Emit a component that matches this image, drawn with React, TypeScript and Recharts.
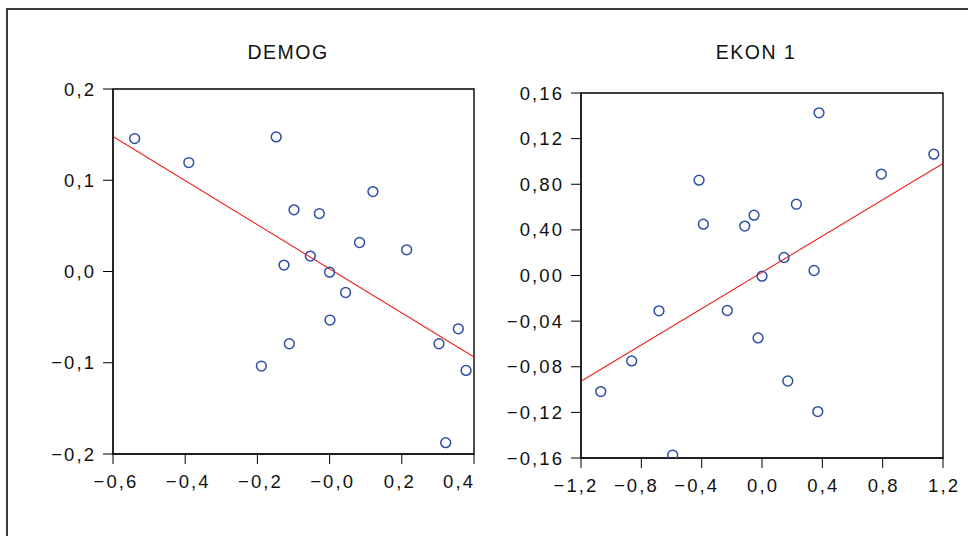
import React from "react";
import {
  ScatterChart,
  Scatter,
  XAxis,
  YAxis,
  ReferenceLine,
  ReferenceArea,
} from "recharts";

// ---- DEMOG ----
const demogPoints = [
  { x: -0.54, y: 0.1457 },
  { x: -0.39, y: 0.1194 },
  { x: -0.148, y: 0.1475 },
  { x: -0.0986, y: 0.0676 },
  { x: -0.0285, y: 0.0635 },
  { x: 0.12, y: 0.0876 },
  { x: 0.083, y: 0.0318 },
  { x: 0.2135, y: 0.0238 },
  { x: -0.0534, y: 0.0169 },
  { x: -0.1263, y: 0.007 },
  { x: 0.0, y: -0.0007 },
  { x: 0.0443, y: -0.023 },
  { x: 0.001, y: -0.0532 },
  { x: -0.1116, y: -0.0792 },
  { x: -0.189, y: -0.1036 },
  { x: 0.303, y: -0.0792 },
  { x: 0.3566, y: -0.0628 },
  { x: 0.378, y: -0.1084 },
  { x: 0.3216, y: -0.1876 },
];
const demogFit = [
  { x: -0.6, y: 0.1479 },
  { x: 0.4, y: -0.0938 },
];
const demogXTicks = [-0.6, -0.4, -0.2, 0, 0.2, 0.4];
const demogXLabels = ["−0,6", "−0,4", "−0,2", "−0,0", "0,2", "0,4"];
const demogYTicks = [-0.2, -0.1, 0, 0.1, 0.2];
const demogYLabels = ["−0,2", "−0,1", "0,0", "0,1", "0,2"];

// ---- EKON 1 ----
const ekonPoints = [
  { x: 0.378, y: 0.1426 },
  { x: 1.139, y: 0.1064 },
  { x: 0.791, y: 0.0889 },
  { x: -0.4175, y: 0.0836 },
  { x: 0.228, y: 0.0625 },
  { x: -0.0528, y: 0.0529 },
  { x: -0.1145, y: 0.0433 },
  { x: -0.389, y: 0.045 },
  { x: 0.146, y: 0.0158 },
  { x: 0.345, y: 0.0044 },
  { x: 0.0, y: -0.0006 },
  { x: -0.683, y: -0.031 },
  { x: -0.23, y: -0.0307 },
  { x: -0.026, y: -0.0547 },
  { x: -0.864, y: -0.0749 },
  { x: -1.069, y: -0.1018 },
  { x: 0.171, y: -0.0925 },
  { x: 0.37, y: -0.1193 },
  { x: -0.592, y: -0.1574 },
];
const ekonFit = [
  { x: -1.2, y: -0.0927 },
  { x: 1.2, y: 0.0982 },
];
const ekonXTicks = [-1.2, -0.8, -0.4, 0, 0.4, 0.8, 1.2];
const ekonXLabels = ["−1,2", "−0,8", "−0,4", "0,0", "0,4", "0,8", "1,2"];
const ekonYTicks = [-0.16, -0.12, -0.08, -0.04, 0, 0.04, 0.08, 0.12, 0.16];
const ekonYLabels = ["−0,16", "−0,12", "−0,08", "−0,04", "0,00", "0,40", "0,80", "0,12", "0,16"];

const FONT = "'Liberation Sans', Arial, sans-serif";
const MARKER = "#2F4FA6";
const FIT = "#F0201C";
const TEXT = "#111";
const FS = 18.5;
const LS = 2.1;

const nearestIndex = (ticks: number[], v: number) => {
  let best = 0;
  for (let i = 0; i < ticks.length; i++) {
    if (Math.abs(ticks[i] - v) < Math.abs(ticks[best] - v)) best = i;
  }
  return best;
};

const Ring = (props: any) => {
  const { cx, cy } = props;
  if (cx == null || cy == null) return null;
  return <circle cx={cx} cy={cy} r={4.9} fill="none" stroke={MARKER} strokeWidth={1.5} />;
};

type XTickOpts = { lastEnd: boolean; negShift: number; posShift: number };

const makeXTick = (ticks: number[], labels: string[], o: XTickOpts) => (props: any) => {
  const { x, y, payload } = props;
  const i = nearestIndex(ticks, payload.value);
  const label = labels[i];
  const isLastEdge = o.lastEnd && i === ticks.length - 1;
  const shift = label.startsWith("−") ? o.negShift : o.posShift;
  return (
    <text
      x={isLastEdge ? x + LS - 1 : x + LS / 2 + shift}
      y={y}
      dy="0.71em"
      textAnchor={isLastEdge ? "end" : "middle"}
      fontSize={FS}
      fontFamily={FONT}
      fill={TEXT}
      letterSpacing={LS}
    >
      {label}
    </text>
  );
};

const makeYTick = (ticks: number[], labels: string[]) => (props: any) => {
  const { x, y, payload } = props;
  const i = nearestIndex(ticks, payload.value);
  return (
    <text
      x={x + LS}
      y={y}
      dy="0.355em"
      textAnchor="end"
      fontSize={FS}
      fontFamily={FONT}
      fill={TEXT}
      letterSpacing={LS}
    >
      {labels[i]}
    </text>
  );
};

type PanelProps = {
  points: { x: number; y: number }[];
  fit: { x: number; y: number }[];
  xTicks: number[];
  xLabels: string[];
  yTicks: number[];
  yLabels: string[];
  xOpts: XTickOpts;
  width: number;
  margin: { top: number; right: number; bottom: number; left: number };
};

const Panel = ({ points, fit, xTicks, xLabels, yTicks, yLabels, xOpts, width, margin }: PanelProps) => {
  const xd: [number, number] = [xTicks[0], xTicks[xTicks.length - 1]];
  const yd: [number, number] = [yTicks[0], yTicks[yTicks.length - 1]];
  return (
    <ScatterChart width={width} height={536} margin={margin}>
      <XAxis
        type="number"
        dataKey="x"
        domain={xd}
        ticks={xTicks}
        allowDataOverflow
        tick={makeXTick(xTicks, xLabels, xOpts)}
        tickSize={10}
        tickMargin={11}
        height={40}
        stroke="#000"
        interval={0}
      />
      <YAxis
        type="number"
        dataKey="y"
        domain={yd}
        ticks={yTicks}
        allowDataOverflow
        tick={makeYTick(yTicks, yLabels)}
        tickSize={10}
        tickMargin={9}
        width={60}
        stroke="#000"
        interval={0}
      />
      <ReferenceArea
        x1={xd[0]}
        x2={xd[1]}
        y1={yd[0]}
        y2={yd[1]}
        fill="none"
        stroke="#000"
        strokeWidth={1.4}
        ifOverflow="visible"
      />
      <ReferenceLine segment={fit} stroke={FIT} strokeWidth={1.1} ifOverflow="visible" />
      <Scatter data={points} shape={<Ring />} isAnimationActive={false} />
    </ScatterChart>
  );
};

const titleStyle: React.CSSProperties = {
  position: "absolute",
  top: 39,
  width: 200,
  textAlign: "center",
  fontFamily: FONT,
  fontSize: 19.5,
  letterSpacing: 1.5,
  color: TEXT,
  lineHeight: "26px",
};

export default function App() {
  return (
    <div
      style={{
        position: "absolute",
        left: 0,
        top: 0,
        width: 968,
        height: 536,
        background: "#fff",
        overflow: "hidden",
      }}
    >
      <div
        style={{
          position: "absolute",
          left: 6,
          top: 8,
          width: 1000,
          height: 600,
          borderLeft: "2px solid #3a3a3a",
          borderTop: "2px solid #3a3a3a",
        }}
      />
      <div style={{ position: "absolute", left: 0, top: 0 }}>
        <Panel
          points={demogPoints}
          fit={demogFit}
          xTicks={demogXTicks}
          xLabels={demogXLabels}
          yTicks={demogYTicks}
          yLabels={demogYLabels}
          xOpts={{ lastEnd: true, negShift: 2, posShift: -3 }}
          width={510}
          margin={{ top: 89, right: 36, bottom: 42, left: 53 }}
        />
      </div>
      <div style={{ position: "absolute", left: 484, top: 0 }}>
        <Panel
          points={ekonPoints}
          fit={ekonFit}
          xTicks={ekonXTicks}
          xLabels={ekonXLabels}
          yTicks={ekonYTicks}
          yLabels={ekonYLabels}
          xOpts={{ lastEnd: false, negShift: -6, posShift: 0 }}
          width={484}
          margin={{ top: 93, right: 25, bottom: 38, left: 37 }}
        />
      </div>
      <div style={{ ...titleStyle, left: 288 - 100 }}>DEMOG</div>
      <div style={{ ...titleStyle, left: 756 - 100 }}>EKON 1</div>
    </div>
  );
}
